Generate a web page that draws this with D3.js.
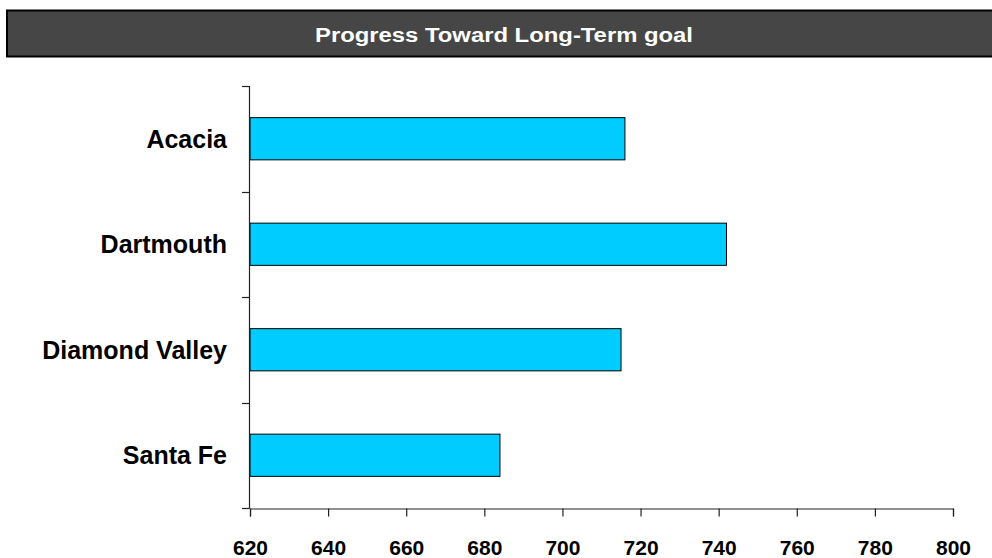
<!DOCTYPE html>
<html>
<head>
<meta charset="utf-8">
<script src="https://cdn.jsdelivr.net/npm/d3@7"></script>
<style>
  html, body { margin: 0; padding: 0; background: #fff; }
  svg { display: block; font-family: "Liberation Sans", Arial, sans-serif; }
</style>
</head>
<body>
<svg id="chart" width="992" height="558"></svg>
<script>
const title = "Progress Toward Long-Term goal";
const categories = ["Acacia", "Dartmouth", "Diamond Valley", "Santa Fe"];
const values = [716, 742, 715, 684];
const xTicks = [620, 640, 660, 680, 700, 720, 740, 760, 780, 800];

const svg = d3.select("#chart");

// Title bar
svg.append("rect")
  .attr("x", 7).attr("y", 10.5).attr("width", 990).attr("height", 46)
  .attr("fill", "#464646").attr("stroke", "#000").attr("stroke-width", 2);
svg.append("text")
  .attr("x", 315).attr("y", 42)
  .attr("textLength", 378).attr("lengthAdjust", "spacingAndGlyphs")
  .attr("fill", "#fff").attr("font-weight", "bold").attr("font-size", 20)
  .text(title);

const x = d3.scaleLinear().domain([620, 800]).range([250, 953]);
const y = d3.scaleBand().domain(categories).range([86, 508])
  .paddingInner(0.6).paddingOuter(0.3);

// Bars
svg.append("g").selectAll("rect").data(categories).join("rect")
  .attr("x", x(620))
  .attr("y", d => y(d))
  .attr("width", (d, i) => x(values[i]) - x(620))
  .attr("height", y.bandwidth())
  .attr("fill", "#00CCFF")
  .attr("stroke", "#000").attr("stroke-width", 1);

// Y axis (ticks between categories)
const yAxisG = svg.append("g");
yAxisG.append("line")
  .attr("x1", 249.5).attr("x2", 249.5).attr("y1", 86).attr("y2", 508.5)
  .attr("stroke", "#222").attr("stroke-width", 1.2);
const step = y.step();
const boundaries = d3.range(categories.length + 1).map(i => 86 + i * step);
yAxisG.selectAll("line.tick").data(boundaries).join("line")
  .attr("class", "tick")
  .attr("x1", 242).attr("x2", 249.5)
  .attr("y1", d => Math.round(d) + 0.5).attr("y2", d => Math.round(d) + 0.5)
  .attr("stroke", "#222").attr("stroke-width", 1.2);
yAxisG.selectAll("text").data(categories).join("text")
  .attr("x", 227)
  .attr("y", d => y(d) + y.bandwidth() / 2)
  .attr("dy", "0.36em")
  .attr("text-anchor", "end")
  .attr("font-weight", "bold").attr("font-size", 25).attr("fill", "#000")
  .text(d => d);

// X axis
const xAxis = d3.axisBottom(x).tickValues(xTicks).tickSize(8).tickPadding(0);
const xg = svg.append("g").attr("transform", "translate(0,508.5)").call(xAxis);
xg.select(".domain").attr("stroke", "#222").attr("stroke-width", 1.2);
xg.selectAll(".tick line").attr("stroke", "#222").attr("stroke-width", 1.2);
xg.selectAll(".tick text")
  .attr("y", 46).attr("dy", null)
  .attr("font-family", "Liberation Sans, Arial, sans-serif")
  .attr("font-weight", "bold").attr("font-size", 21).attr("fill", "#000");
</script>
</body>
</html>
